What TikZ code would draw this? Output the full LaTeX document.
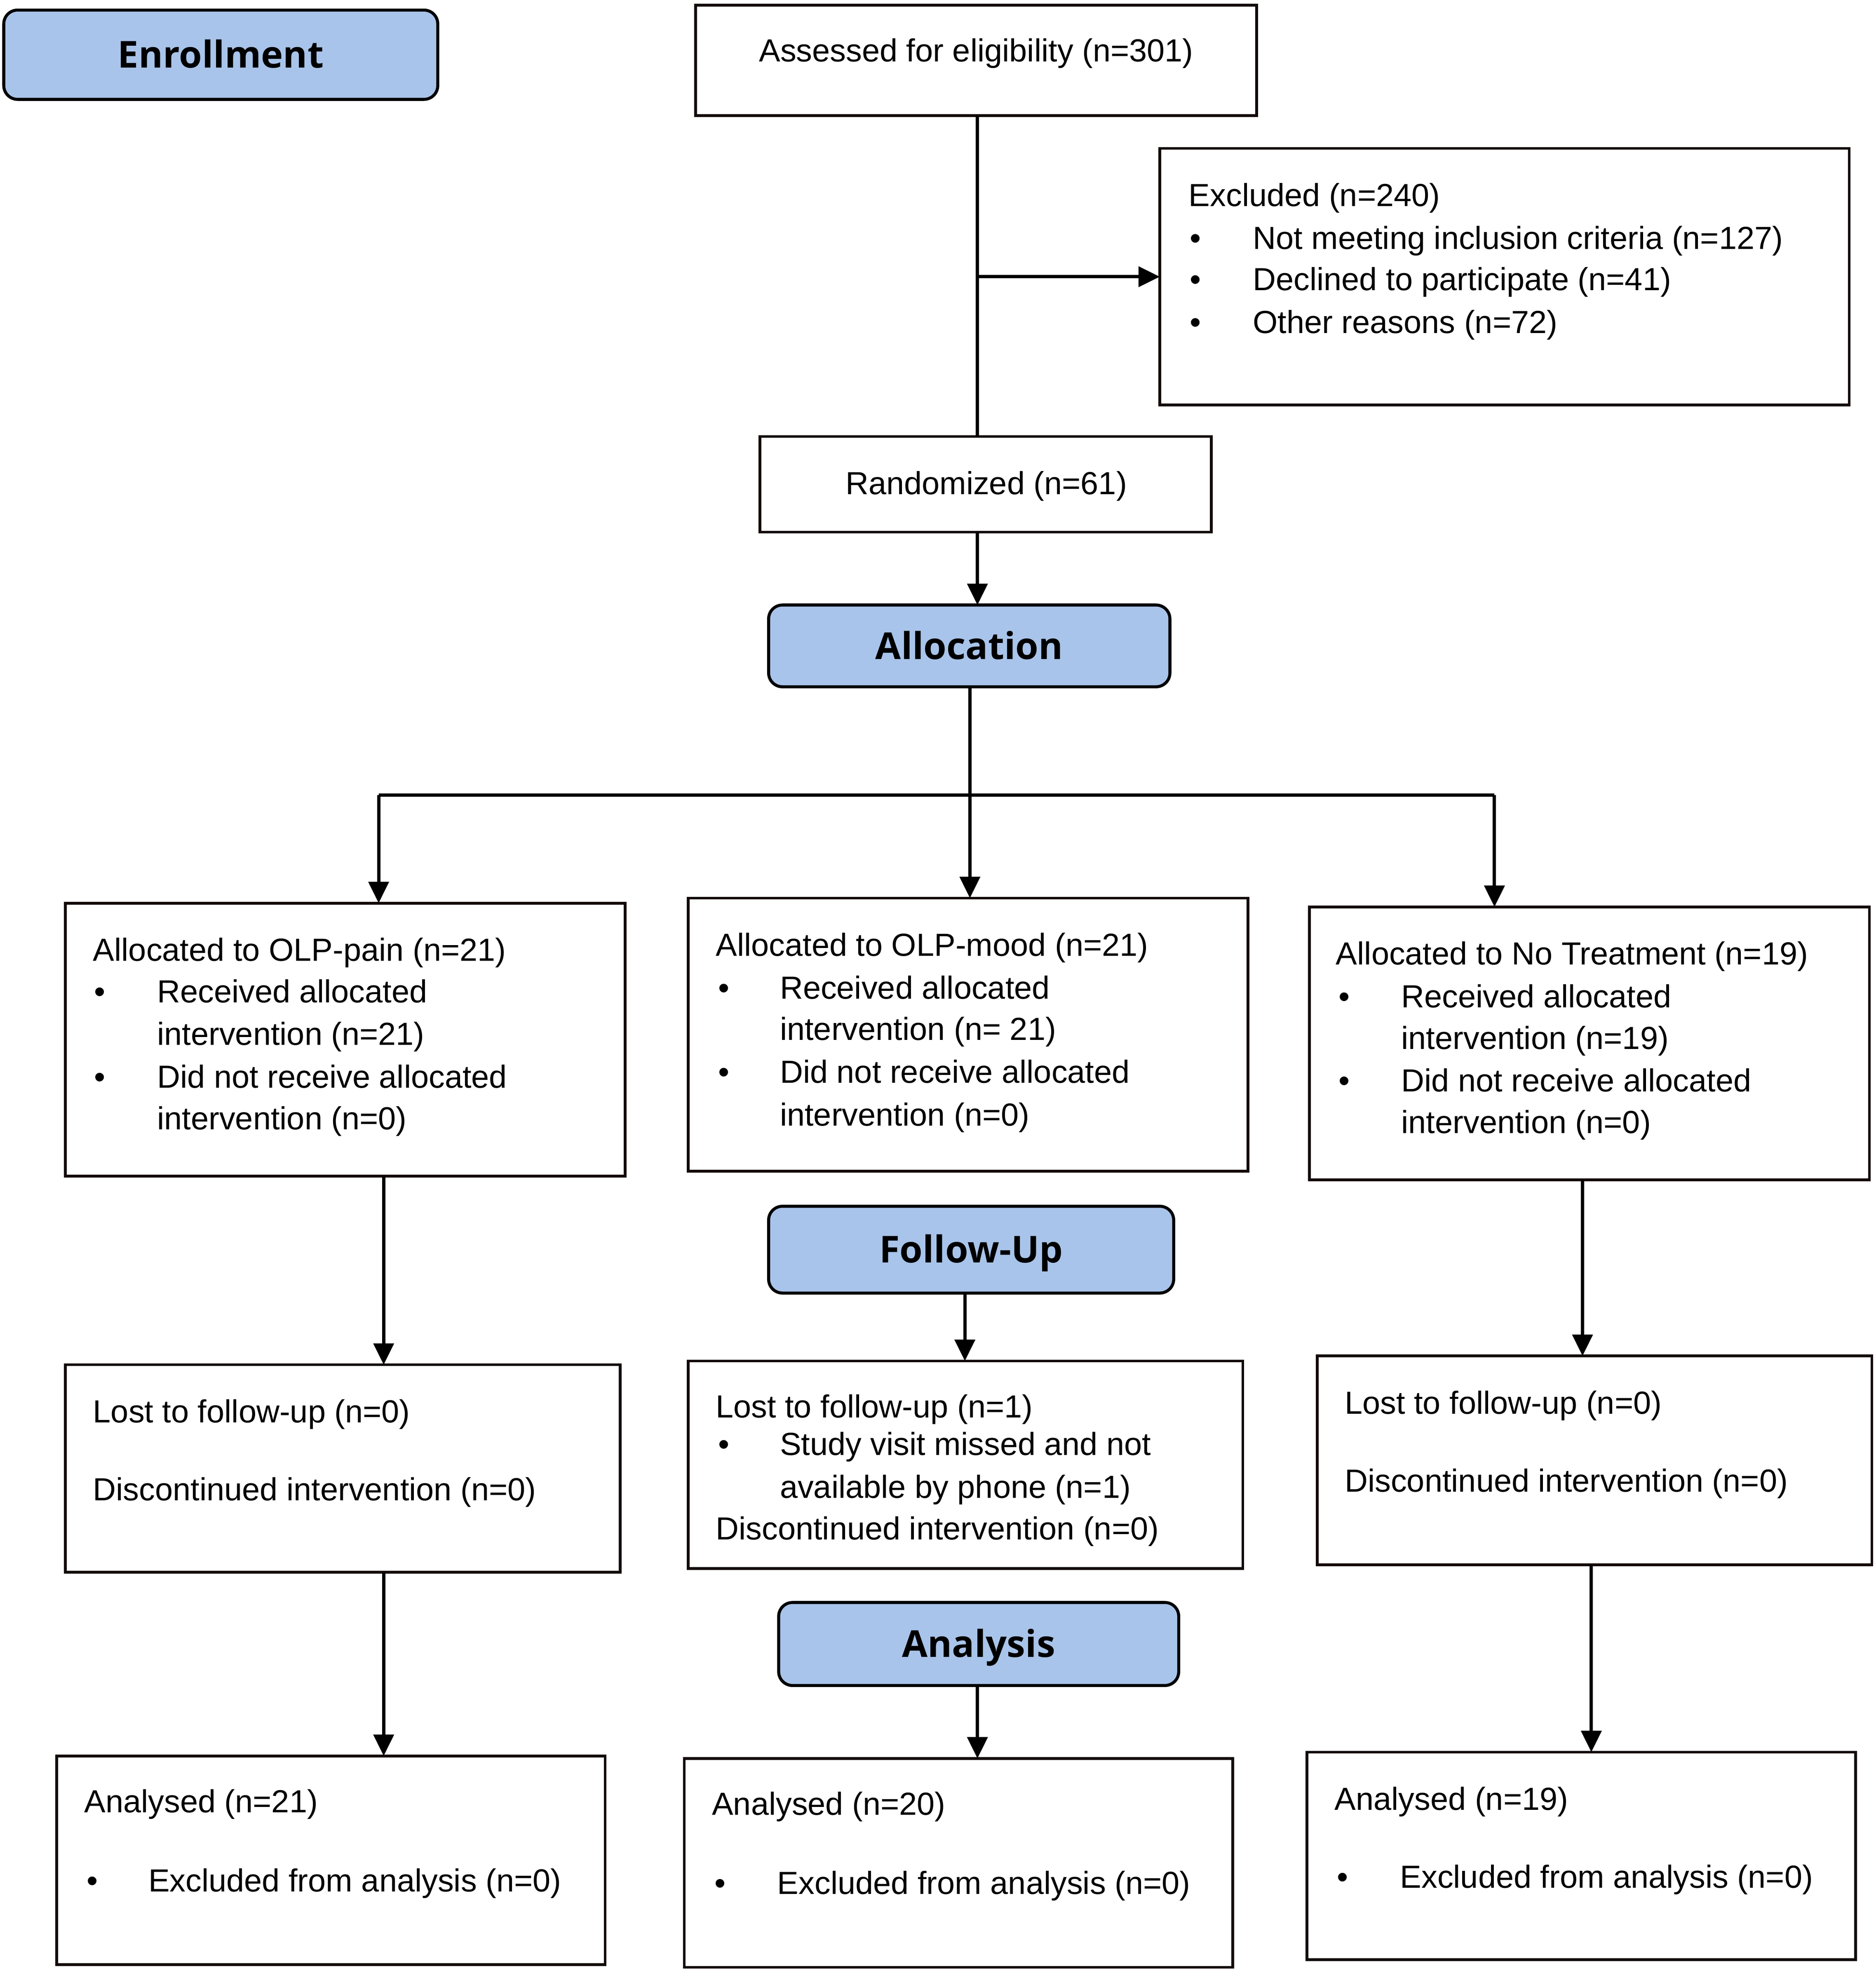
\documentclass[tikz,border=0pt]{standalone}
\usepackage{fontspec}
\setmainfont{Liberation Sans}
\newfontfamily\stagefont{Open Sans}
\usetikzlibrary{arrows.meta,positioning}
\definecolor{stageblue}{RGB}{169,196,234}
\definecolor{edgecol}{RGB}{20,10,10}
\tikzset{
  box/.style={draw=edgecol, line width=2.2pt, fill=white, inner sep=0pt, outer sep=0pt},
  stage/.style={draw=black, line width=2.4pt, fill=stageblue, rounded corners=11pt, inner sep=0pt, outer sep=0pt,
    font=\stagefont\bfseries\fontsize{29.5}{36}\selectfont, text height=21pt, text depth=0pt},
  txt/.style={anchor=base west, inner sep=0pt, outer sep=0pt, font=\fontsize{25.4}{30}\selectfont},
  ctxt/.style={anchor=base, inner sep=0pt, outer sep=0pt, font=\fontsize{25.4}{30}\selectfont},
  conn/.style={draw=black, line width=2.6pt},
  arr/.style={conn, -{Triangle[length=17pt,width=16pt]}}
}
\begin{document}
\begin{tikzpicture}[x=1pt,y=-1pt]
\useasboundingbox (0,0) rectangle (1491,1567);

% stage boxes
\node[stage, minimum width=345pt, minimum height=71pt] (enroll) at (175.5,43.5) {Enrollment};
\node[stage, minimum width=319pt, minimum height=65pt] (alloc) at (770.5,513.5) {Allocation};
\node[stage, minimum width=322pt, minimum height=69pt] (follow) at (772,993.5) {Follow-Up};
\node[stage, minimum width=318pt, minimum height=66pt] (analysis) at (778,1307) {Analysis};

% main boxes
\node[box, minimum width=446pt, minimum height=88pt] (assess) at (776,48) {};
\node[box, minimum width=548pt, minimum height=204pt] (excl) at (1196,220) {};
\node[box, minimum width=359pt, minimum height=76pt] (rand) at (783.5,385) {};
\node[box, minimum width=445pt, minimum height=217pt] (pain) at (274.5,826.5) {};
\node[box, minimum width=445pt, minimum height=217pt] (mood) at (769.5,822.5) {};
\node[box, minimum width=445pt, minimum height=217pt] (notr) at (1263.5,829.5) {};
\node[box, minimum width=441pt, minimum height=165pt] (lostL) at (272.5,1167.5) {};
\node[box, minimum width=441pt, minimum height=165pt] (lostM) at (767.5,1164.5) {};
\node[box, minimum width=441pt, minimum height=166pt] (lostR) at (1267.5,1161) {};
\node[box, minimum width=436pt, minimum height=166pt] (anaL) at (263,1479) {};
\node[box, minimum width=436pt, minimum height=166pt] (anaM) at (762,1481) {};
\node[box, minimum width=436pt, minimum height=165pt] (anaR) at (1257,1475.5) {};

% texts
\node[ctxt] (assess-t) at (776,49) {Assessed for eligibility (n=301)};
\node[ctxt] (rand-t) at (784,393) {Randomized (n=61)};

\node[txt] (excl-t1) at (945,164) {Excluded (n=240)};
\node[txt] (excl-b1) at (946,198) {•};
\node[txt] (excl-t2) at (996,198) {Not meeting inclusion criteria (n=127)};
\node[txt] (excl-b2) at (946,231) {•};
\node[txt] (excl-t3) at (996,231) {Declined to participate (n=41)};
\node[txt] (excl-b3) at (946,265) {•};
\node[txt] (excl-t4) at (996,265) {Other reasons (n=72)};

\node[txt] (pain-t1) at (74,764) {Allocated to OLP-pain (n=21)};
\node[txt] (pain-b1) at (75,797) {•};
\node[txt] (pain-t2) at (125,797) {Received allocated};
\node[txt] (pain-t3) at (125,831) {intervention (n=21)};
\node[txt] (pain-b2) at (75,865) {•};
\node[txt] (pain-t4) at (125,865) {Did not receive allocated};
\node[txt] (pain-t5) at (125,898) {intervention (n=0)};

\node[txt] (mood-t1) at (569,760) {Allocated to OLP-mood (n=21)};
\node[txt] (mood-b1) at (571,794) {•};
\node[txt] (mood-t2) at (620,794) {Received allocated};
\node[txt] (mood-t3) at (620,827) {intervention (n= 21)};
\node[txt] (mood-b2) at (571,861) {•};
\node[txt] (mood-t4) at (620,861) {Did not receive allocated};
\node[txt] (mood-t5) at (620,895) {intervention (n=0)};

\node[txt] (notr-t1) at (1062,767) {Allocated to No Treatment (n=19)};
\node[txt] (notr-b1) at (1064,801) {•};
\node[txt] (notr-t2) at (1114,801) {Received allocated};
\node[txt] (notr-t3) at (1114,834) {intervention (n=19)};
\node[txt] (notr-b2) at (1064,868) {•};
\node[txt] (notr-t4) at (1114,868) {Did not receive allocated};
\node[txt] (notr-t5) at (1114,901) {intervention (n=0)};

\node[txt] (lostL-t1) at (74,1131) {Lost to follow-up (n=0)};
\node[txt] (lostL-t2) at (74,1193) {Discontinued intervention (n=0)};

\node[txt] (lostM-t1) at (569,1127) {Lost to follow-up (n=1)};
\node[txt] (lostM-b1) at (571,1157) {•};
\node[txt] (lostM-t2) at (620,1157) {Study visit missed and not};
\node[txt] (lostM-t3) at (620,1191) {available by phone (n=1)};
\node[txt] (lostM-t4) at (569,1224) {Discontinued intervention (n=0)};

\node[txt] (lostR-t1) at (1069,1124) {Lost to follow-up (n=0)};
\node[txt] (lostR-t2) at (1069,1186) {Discontinued intervention (n=0)};

\node[txt] (anaL-t1) at (67,1441) {Analysed (n=21)};
\node[txt] (anaL-b1) at (69,1504) {•};
\node[txt] (anaL-t2) at (118,1504) {Excluded from analysis (n=0)};

\node[txt] (anaM-t1) at (566,1443) {Analysed (n=20)};
\node[txt] (anaM-b1) at (568,1506) {•};
\node[txt] (anaM-t2) at (618,1506) {Excluded from analysis (n=0)};

\node[txt] (anaR-t1) at (1061,1439) {Analysed (n=19)};
\node[txt] (anaR-b1) at (1063,1501) {•};
\node[txt] (anaR-t2) at (1113,1501) {Excluded from analysis (n=0)};

% connector coordinates
\coordinate (xa) at (777,0);
\coordinate (xm) at (771,0);
\coordinate (jL) at (301,632);
\coordinate (jR) at (1188,632);
\coordinate (xL) at (305,0);
\coordinate (xF) at (767,0);
\coordinate (xR1) at (1258,0);
\coordinate (xR2) at (1265,0);

% connectors
\draw[conn] (assess.south -| xa) -- (rand.north -| xa);
\draw[arr] (assess.south |- excl.west) -- (excl.west);
\draw[arr] (rand.south -| xa) -- (alloc.north -| xa);
\draw[arr] (alloc.south -| xm) -- (mood.north -| xm);
\draw[conn] (jL) -- (jR);
\draw[arr] (jL) -- (pain.north -| jL);
\draw[arr] (jR) -- (notr.north -| jR);
\draw[arr] (pain.south -| xL) -- (lostL.north -| xL);
\draw[arr] (follow.south -| xF) -- (lostM.north -| xF);
\draw[arr] (notr.south -| xR1) -- (lostR.north -| xR1);
\draw[arr] (lostL.south -| xL) -- (anaL.north -| xL);
\draw[arr] (analysis.south -| xa) -- (anaM.north -| xa);
\draw[arr] (lostR.south -| xR2) -- (anaR.north -| xR2);
\end{tikzpicture}
\end{document}
